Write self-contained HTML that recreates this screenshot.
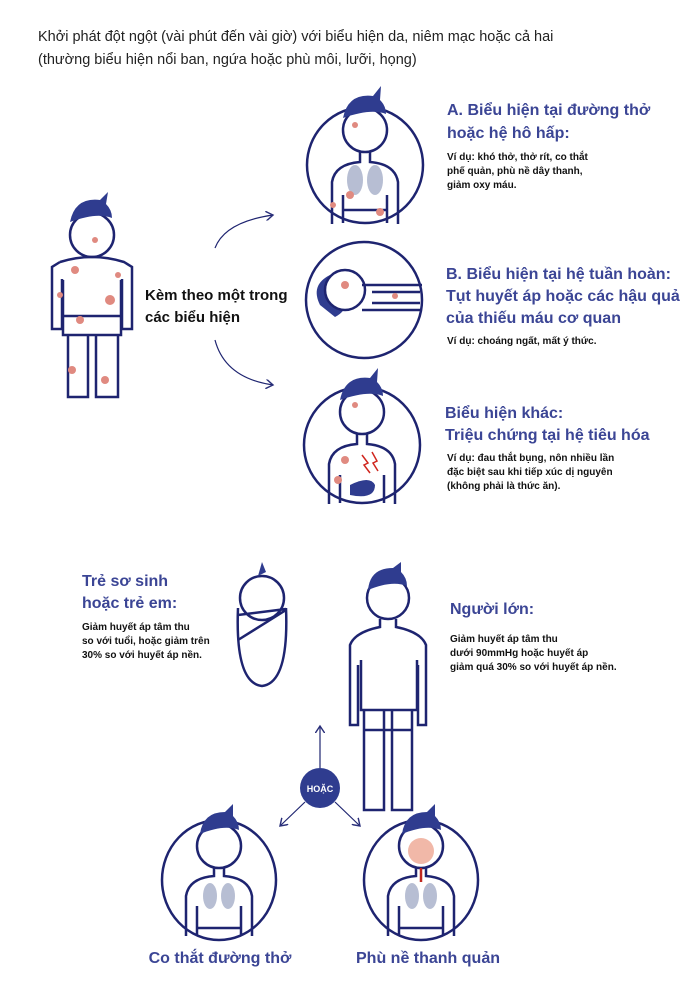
<!DOCTYPE html>
<html><head><meta charset="utf-8"><style>
body{margin:0;background:#fff;width:680px;height:996px;overflow:hidden}
svg{display:block}
.t{font-family:"Liberation Sans",sans-serif}
.h{fill:#3b4595;font-weight:bold;font-size:16px}
.s{fill:#111;font-size:10px;font-weight:bold}
</style></head><body>
<svg width="680" height="996" viewBox="0 0 680 996" class="t">
<defs>
<marker id="ar" markerWidth="8" markerHeight="8" refX="6" refY="4" orient="auto"><path d="M0,0 L6,4 L0,8" fill="none" stroke="#2a2f7a" stroke-width="1.2"/></marker>
</defs>
<text x="38" y="41" font-size="14.5" fill="#222">Khởi phát đột ngột (vài phút đến vài giờ) với biểu hiện da, niêm mạc hoặc cả hai</text>
<text x="38" y="64" font-size="14.5" fill="#222">(thường biểu hiện nổi ban, ngứa hoặc phù môi, lưỡi, họng)</text>

<g fill="none" stroke="#1e2470" stroke-width="2.5">
<circle cx="92" cy="235" r="22" fill="#fff"/>
<path d="M70,222 q5,-25 30,-22 l8,-8 l-2,12 q6,6 6,14 q-15,-6 -42,4z" fill="#2f3c8f" stroke="none"/>
<path d="M60,262 q32,-10 64,0 l8,5 v62 h-10 v-50 M60,262 l-8,5 v62 h10 v-50 M63,280 v55 h58 v-55 M68,335 v62 h20 v-62 M96,335 v62 h22 v-62 M63,316 h58"/>
<path d="M215,248 Q225,222 273,215" marker-end="url(#ar)" stroke-width="1.2"/>
<path d="M215,340 Q225,378 273,385" marker-end="url(#ar)" stroke-width="1.2"/>
<circle cx="365" cy="165" r="58"/>
<circle cx="364" cy="300" r="58"/>
<circle cx="362" cy="445" r="58"/>
<circle cx="365" cy="130" r="22" fill="#fff"/>
<path d="M343,118 q5,-25 30,-22 l8,-10 l-1,14 q6,6 6,14 q-15,-6 -43,4z" fill="#2f3c8f" stroke="none"/>
<path d="M360,152 v10 q-25,2 -28,20 v42 M370,152 v10 q25,2 28,20 v42 M343,195 v28 M387,195 v28 M343,210 h44"/>
<ellipse cx="355" cy="180" rx="8" ry="15" fill="#b7bed3" stroke="none"/><ellipse cx="375" cy="180" rx="8" ry="15" fill="#b7bed3" stroke="none"/>
<path d="M330,275 q-20,10 -10,30 l15,12 q10,-5 12,-15 q-5,-20 -17,-27z" fill="#2f3c8f" stroke="none"/>
<circle cx="345" cy="290" r="20" fill="#fff"/>
<path d="M362,285 h60 M362,310 h60 M372,292 h48 M372,303 h48"/>
<circle cx="362" cy="412" r="22" fill="#fff"/>
<path d="M340,400 q5,-25 30,-22 l8,-10 l-1,14 q6,6 6,14 q-15,-6 -43,4z" fill="#2f3c8f" stroke="none"/>
<path d="M357,434 v10 q-25,2 -28,20 v40 M367,434 v10 q25,2 28,20 v40 M340,475 v28 M384,475 v28"/>
<path d="M350,485 q20,-10 25,0 q0,15 -25,10z" fill="#2f3c8f" stroke="none"/>
<path d="M362,455 l6,8 l-4,2 l6,8 M372,452 l5,9 l-4,2 l5,8" stroke="#d0261e" stroke-width="1.5"/>
<circle cx="262" cy="598" r="22" fill="#fff"/>
<path d="M238,608 q-3,75 24,78 q27,-3 24,-78 M238,615 l48,-6 M238,640 l48,-30"/>
<path d="M258,576 l4,-14 l4,10z" fill="#2f3c8f" stroke="none"/>
<circle cx="388" cy="598" r="21" fill="#fff"/>
<path d="M368,590 q2,-22 25,-22 l8,-6 l0,10 q6,6 6,14 q-15,-6 -39,4z" fill="#2f3c8f" stroke="none"/>
<path d="M380,619 v8 q-25,5 -30,18 v80 h8 v-60 M396,619 v8 q25,5 30,18 v80 h-8 v-60 M361,660 v50 h56 v-50 M364,710 v100 h20 v-100 M392,710 v100 h20 v-100 M364,730 h48"/>
<path d="M320,768 v-42" marker-end="url(#ar)" stroke-width="1.2"/>
<path d="M305,802 l-25,24" marker-end="url(#ar)" stroke-width="1.2"/>
<path d="M335,802 l25,24" marker-end="url(#ar)" stroke-width="1.2"/>
<g transform="translate(0,-22)">
<ellipse cx="219" cy="902" rx="57" ry="60"/>
<ellipse cx="421" cy="902" rx="57" ry="60"/>
<circle cx="219" cy="868" r="22" fill="#fff"/>
<path d="M200,856 q3,-22 25,-22 l8,-8 l0,12 q6,6 6,14 q-15,-6 -39,4z" fill="#2f3c8f" stroke="none"/>
<path d="M214,890 v8 q-25,2 -28,20 v40 M224,890 v8 q25,2 28,20 v40 M197,928 v30 M241,928 v30 M197,950 h44"/>
<ellipse cx="210" cy="918" rx="7" ry="13" fill="#b7bed3" stroke="none"/><ellipse cx="228" cy="918" rx="7" ry="13" fill="#b7bed3" stroke="none"/>
<circle cx="421" cy="868" r="22" fill="#fff"/>
<circle cx="421" cy="873" r="13" fill="#f1b8a8" stroke="none"/>
<path d="M402,856 q3,-22 25,-22 l8,-8 l0,12 q6,6 6,14 q-15,-6 -39,4z" fill="#2f3c8f" stroke="none"/>
<path d="M416,890 v8 q-25,2 -28,20 v40 M426,890 v8 q25,2 28,20 v40 M399,928 v30 M443,928 v30 M399,950 h44"/>
<ellipse cx="412" cy="918" rx="7" ry="13" fill="#b7bed3" stroke="none"/><ellipse cx="430" cy="918" rx="7" ry="13" fill="#b7bed3" stroke="none"/>
<path d="M421,890 v14" stroke="#c0281f"/>
</g>
</g>
<circle cx="320" cy="788" r="20" fill="#2f3c8f"/>
<text x="320" y="792" font-size="9" fill="#fff" font-weight="bold" text-anchor="middle">HOẶC</text>
<g fill="#e08a80">
<circle cx="75" cy="270" r="4"/><circle cx="110" cy="300" r="5"/><circle cx="80" cy="320" r="4"/><circle cx="72" cy="370" r="4"/><circle cx="105" cy="380" r="4"/><circle cx="95" cy="240" r="3"/><circle cx="118" cy="275" r="3"/><circle cx="60" cy="295" r="3"/>
<circle cx="350" cy="195" r="4"/><circle cx="380" cy="212" r="4"/><circle cx="333" cy="205" r="3"/><circle cx="355" cy="125" r="3"/>
<circle cx="345" cy="285" r="4"/><circle cx="395" cy="296" r="3"/>
<circle cx="345" cy="460" r="4"/><circle cx="338" cy="480" r="4"/><circle cx="355" cy="405" r="3"/>
</g>
<text x="145" y="300" font-size="15" font-weight="bold" fill="#111">Kèm theo một trong</text>
<text x="145" y="322" font-size="15" font-weight="bold" fill="#111">các biểu hiện</text>

<text class="h" x="447" y="115">A. Biểu hiện tại đường thở</text>
<text class="h" x="447" y="138">hoặc hệ hô hấp:</text>
<text class="s" x="447" y="160">Ví dụ: khó thở, thở rít, co thắt</text>
<text class="s" x="447" y="174">phế quản, phù nề dây thanh,</text>
<text class="s" x="447" y="188">giảm oxy máu.</text>

<text class="h" x="446" y="279">B. Biểu hiện tại hệ tuần hoàn:</text>
<text class="h" x="446" y="301">Tụt huyết áp hoặc các hậu quả</text>
<text class="h" x="446" y="323">của thiếu máu cơ quan</text>
<text class="s" x="447" y="344">Ví dụ: choáng ngất, mất ý thức.</text>

<text class="h" x="445" y="418">Biểu hiện khác:</text>
<text class="h" x="445" y="440">Triệu chứng tại hệ tiêu hóa</text>
<text class="s" x="447" y="461">Ví dụ: đau thắt bụng, nôn  nhiều lần</text>
<text class="s" x="447" y="475">đặc biệt sau khi tiếp xúc dị nguyên</text>
<text class="s" x="447" y="489">(không phải là thức ăn).</text>

<text class="h" x="82" y="586">Trẻ sơ sinh</text>
<text class="h" x="82" y="608">hoặc trẻ em:</text>
<text class="s" x="82" y="630">Giảm huyết áp tâm thu</text>
<text class="s" x="82" y="644">so với tuổi, hoặc giảm trên</text>
<text class="s" x="82" y="658">30% so với huyết áp nền.</text>

<text class="h" x="450" y="614">Người lớn:</text>
<text class="s" x="450" y="642">Giảm huyết áp tâm thu</text>
<text class="s" x="450" y="656">dưới 90mmHg hoặc huyết áp</text>
<text class="s" x="450" y="670">giảm quá 30% so với huyết áp nền.</text>

<text class="h" x="220" y="963" text-anchor="middle">Co thắt đường thở</text>
<text class="h" x="428" y="963" text-anchor="middle">Phù nề thanh quản</text>
</svg>
</body></html>
